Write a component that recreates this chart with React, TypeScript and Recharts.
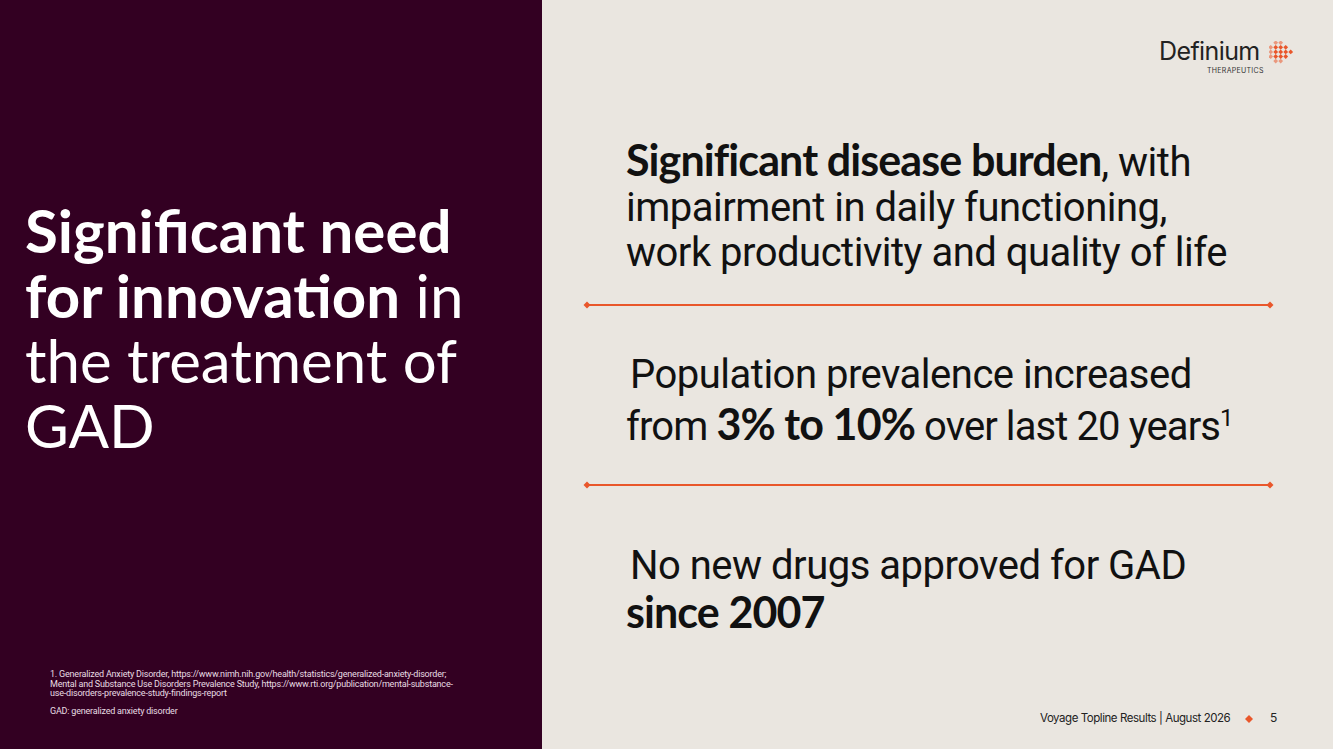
import React from "react";
import { ComposedChart, Line, XAxis, YAxis } from "recharts";

// ---- content ----
const leftTitleLines = [
  [{ t: "Significant need", b: true }],
  [{ t: "for innovation", b: true }, { t: " in", b: false }],
  [{ t: "the treatment of", b: false }],
  [{ t: "GAD", b: false }],
];

const footnotes = [
  "1. Generalized Anxiety Disorder, https://www.nimh.nih.gov/health/statistics/generalized-anxiety-disorder;",
  "Mental and Substance Use Disorders Prevalence Study, https://www.rti.org/publication/mental-substance-",
  "use-disorders-prevalence-study-findings-report",
];
const abbreviation = "GAD: generalized anxiety disorder";
const footerText = "Voyage Topline Results | August 2026";
const pageNumber = "5";

// divider positions (levels between the three statements) and span
const dividerSpan = [0, 1];
const dividerLevels = [1, 2];

const dividerData = dividerSpan.map((p) => ({
  pos: p,
  d1: dividerLevels[0],
  d2: dividerLevels[1],
}));

const ORANGE = "#E9572B";
const DARK = "#330022";
const LIGHT = "#EAE6E0";
const TEXT = "#111111";

const boldFont = "Lato, 'Open Sans', sans-serif";
const bodyFont = "Roboto, 'Noto Sans', sans-serif";

const boldStyle: React.CSSProperties = {
  fontFamily: boldFont,
  fontWeight: 700,
  fontSize: 43,
  letterSpacing: -0.9,
};

const Diamond = (props: any) => {
  const { cx, cy } = props;
  if (cx == null || cy == null) return null;
  const s = 3.5;
  return (
    <polygon
      points={`${cx},${cy - s} ${cx + s},${cy} ${cx},${cy + s} ${cx - s},${cy}`}
      fill={ORANGE}
    />
  );
};

const logoDots = [
  [1, 0], [2, 0],
  [0, 1], [1, 1], [2, 1], [3, 1],
  [0, 2], [1, 2], [2, 2], [3, 2], [4, 2],
  [0, 3], [1, 3], [2, 3], [3, 3],
  [1, 4], [2, 4],
];

export default function App() {
  return (
    <div
      style={{
        position: "absolute",
        left: 0,
        top: 0,
        width: 1333,
        height: 749,
        overflow: "hidden",
        background: LIGHT,
      }}
    >
      {/* left panel */}
      <div
        style={{
          position: "absolute",
          left: 0,
          top: 0,
          width: 542,
          height: 749,
          background: DARK,
        }}
      />
      <div
        style={{
          position: "absolute",
          left: 25,
          top: 198,
          width: 515,
          color: "#ffffff",
          fontFamily: boldFont,
          fontSize: 60,
          lineHeight: "65px",
          whiteSpace: "nowrap",
        }}
      >
        {leftTitleLines.map((line, i) => (
          <div key={i}>
            {line.map((seg, j) => (
              <span key={j} style={{ fontWeight: seg.b ? 700 : 400 }}>
                {seg.t}
              </span>
            ))}
          </div>
        ))}
      </div>

      {/* footnotes */}
      <div
        style={{
          position: "absolute",
          left: 50,
          top: 670,
          color: "#E8DCE2",
          fontFamily: "Roboto, sans-serif",
          fontSize: 9,
          lineHeight: "9.5px",
          letterSpacing: -0.2,
          whiteSpace: "nowrap",
        }}
      >
        {footnotes.map((f, i) => (
          <div key={i}>{f}</div>
        ))}
        <div style={{ marginTop: 8 }}>{abbreviation}</div>
      </div>

      {/* logo */}
      <div
        style={{
          position: "absolute",
          left: 1159,
          top: 36,
          fontFamily: "Inter, Roboto, sans-serif",
          fontSize: 25,
          color: "#222222",
          letterSpacing: -0.6,
          whiteSpace: "nowrap",
        }}
      >
        Definium
      </div>
      <div
        style={{
          position: "absolute",
          left: 1207,
          top: 66,
          fontFamily: "Inter, Roboto, sans-serif",
          fontSize: 7,
          color: "#333333",
          letterSpacing: 0.3,
          whiteSpace: "nowrap",
        }}
      >
        THERAPEUTICS
      </div>
      <svg
        style={{ position: "absolute", left: 1269, top: 41 }}
        width={26}
        height={24}
      >
        {logoDots.map(([c, r], i) => (
          <rect
            key={i}
            x={c * 5}
            y={r * 4.6}
            width={3.4}
            height={3.4}
            fill={ORANGE}
            opacity={c === 0 || r === 0 || r === 4 ? 0.55 : 1}
            transform={`rotate(45 ${c * 5 + 1.7} ${r * 4.6 + 1.7})`}
          />
        ))}
      </svg>

      {/* right statements */}
      <div
        style={{
          position: "absolute",
          left: 626,
          top: 137,
          fontFamily: bodyFont,
          fontSize: 40,
          lineHeight: "45px",
          letterSpacing: -0.5,
          color: TEXT,
          whiteSpace: "nowrap",
        }}
      >
        <div>
          <span style={boldStyle}>Significant disease burden</span>, with
        </div>
        <div>impairment in daily functioning,</div>
        <div>work productivity and quality of life</div>
      </div>

      <div
        style={{
          position: "absolute",
          left: 626,
          top: 350,
          fontFamily: bodyFont,
          fontSize: 40,
          lineHeight: "49px",
          letterSpacing: -0.5,
          color: TEXT,
          whiteSpace: "nowrap",
        }}
      >
        <div style={{ paddingLeft: 4 }}>Population prevalence increased</div>
        <div style={{ letterSpacing: -0.9 }}>
          from <span style={boldStyle}>3% to 10%</span> over last 20 years
          <sup style={{ fontSize: 24, lineHeight: 0 }}>1</sup>
        </div>
      </div>

      <div
        style={{
          position: "absolute",
          left: 626,
          top: 543,
          fontFamily: bodyFont,
          fontSize: 40,
          lineHeight: "46px",
          letterSpacing: -0.5,
          color: TEXT,
          whiteSpace: "nowrap",
        }}
      >
        <div style={{ paddingLeft: 4 }}>No new drugs approved for GAD</div>
        <div>
          <span style={boldStyle}>since 2007</span>
        </div>
      </div>

      {/* dividers drawn with recharts */}
      <div style={{ position: "absolute", left: 583, top: 121 }}>
        <ComposedChart
          width={691}
          height={548}
          data={dividerData}
          margin={{ top: 4, right: 4, bottom: 4, left: 4 }}
        >
          <XAxis dataKey="pos" type="number" domain={[0, 1]} hide />
          <YAxis type="number" domain={[0, 3]} reversed hide />
          <Line
            dataKey="d1"
            stroke={ORANGE}
            strokeWidth={2}
            dot={<Diamond />}
            activeDot={false}
            isAnimationActive={false}
          />
          <Line
            dataKey="d2"
            stroke={ORANGE}
            strokeWidth={2}
            dot={<Diamond />}
            activeDot={false}
            isAnimationActive={false}
          />
        </ComposedChart>
      </div>

      {/* footer */}
      <div
        style={{
          position: "absolute",
          left: 1040,
          top: 711,
          fontFamily: "Inter, Roboto, sans-serif",
          fontSize: 11.5,
          color: "#222222",
          letterSpacing: -0.45,
          whiteSpace: "nowrap",
        }}
      >
        {footerText}
      </div>
      <svg style={{ position: "absolute", left: 1244, top: 714 }} width={10} height={10}>
        <polygon points="5,1 9,5 5,9 1,5" fill={ORANGE} />
      </svg>
      <div
        style={{
          position: "absolute",
          left: 1270,
          top: 710,
          fontFamily: "Inter, Roboto, sans-serif",
          fontSize: 12,
          color: "#222222",
        }}
      >
        {pageNumber}
      </div>
    </div>
  );
}
